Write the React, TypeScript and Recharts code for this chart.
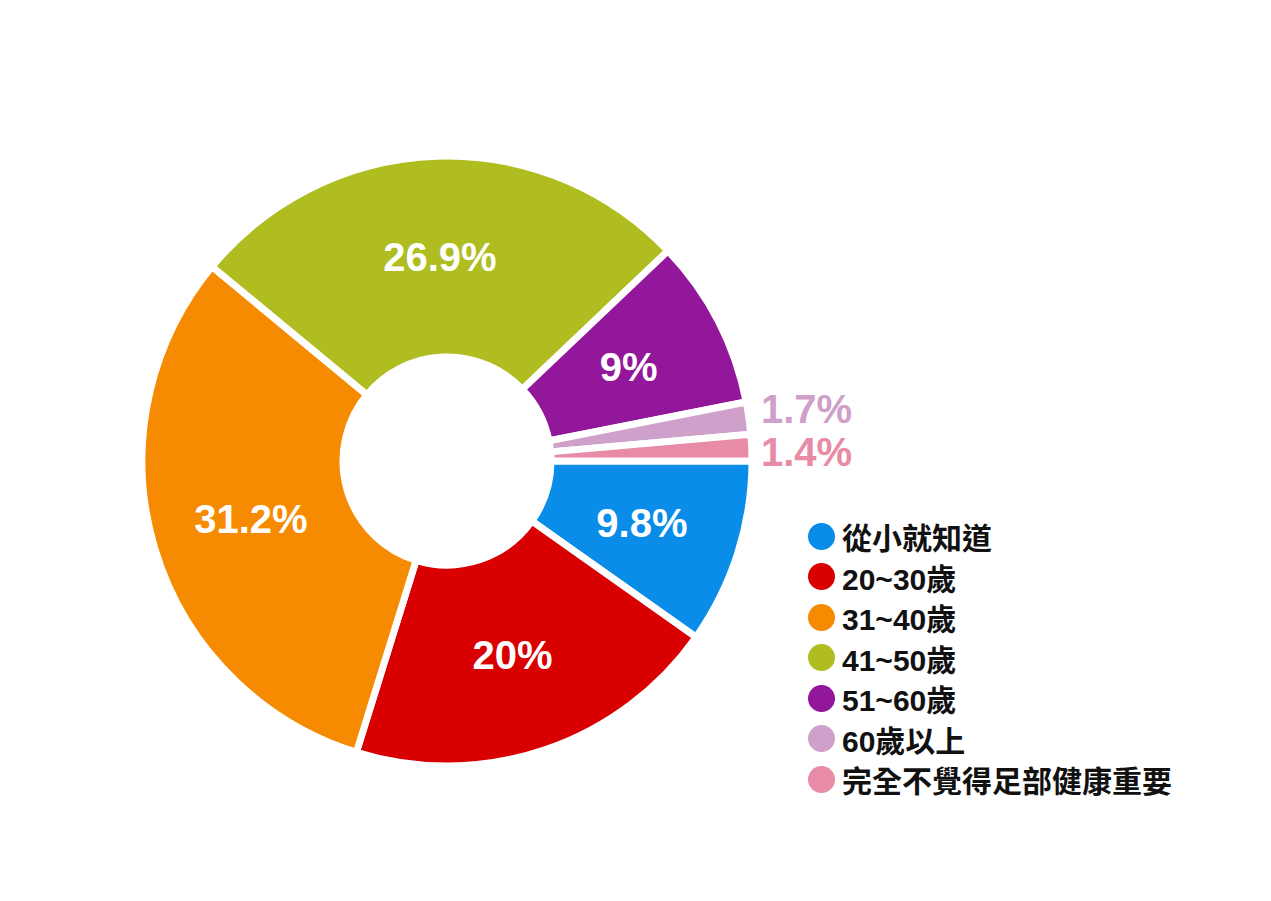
import { Cell, Legend, Pie, PieChart } from "recharts";

const categories = [
  "從小就知道",
  "20~30歲",
  "31~40歲",
  "41~50歲",
  "51~60歲",
  "60歲以上",
  "完全不覺得足部健康重要",
];
const shares = [9.8, 20, 31.2, 26.9, 9, 1.7, 1.4];
const colors = ["#0a8ce9", "#d80000", "#f68a00", "#afbd20", "#93179b", "#cfa0ca", "#e88ba6"];

const data = categories.map((name, i) => ({ name, value: shares[i] }));

const FONT = '"Liberation Sans", Arial, "Noto Sans CJK TC", sans-serif';
const RADIAN = Math.PI / 180;
const SMALL = 5;

function renderLabel(props: any) {
  const { cx, cy, midAngle, innerRadius, outerRadius, value, index } = props;
  if (value < SMALL) {
    // small slices get their labels stacked outside, to the right
    const fromEnd = data.length - 1 - index;
    return (
      <text
        x={cx + outerRadius + 9}
        y={cy - 9 - fromEnd * 43}
        fill={colors[index]}
        textAnchor="start"
        dominantBaseline="central"
        fontFamily={FONT}
        fontWeight="bold"
        fontSize={40}
      >
        {value}%
      </text>
    );
  }
  const r = (innerRadius + outerRadius) / 2;
  const x = cx + r * Math.cos(-midAngle * RADIAN);
  const y = cy + r * Math.sin(-midAngle * RADIAN);
  return (
    <text
      x={x}
      y={y}
      fill="#fff"
      textAnchor="middle"
      dominantBaseline="central"
      fontFamily={FONT}
      fontWeight="bold"
      fontSize={40}
    >
      {value}%
    </text>
  );
}

function LegendList() {
  return (
    <div style={{ fontFamily: FONT, fontWeight: "bold", fontSize: 30, color: "#111" }}>
      {data.map((d, i) => (
        <div key={d.name} style={{ display: "flex", alignItems: "center", height: 40.5 }}>
          <span
            style={{
              width: 27,
              height: 27,
              borderRadius: "50%",
              background: colors[i],
              marginRight: 7,
              flexShrink: 0,
            }}
          />
          <span style={{ whiteSpace: "nowrap" }}>{d.name}</span>
        </div>
      ))}
    </div>
  );
}

export default function App() {
  return (
    <div style={{ position: "absolute", left: 0, top: 0, background: "#fff" }}>
      <PieChart width={1271} height={901} margin={{ top: 0, right: 0, bottom: 0, left: 0 }}>
        <Pie
          data={data}
          dataKey="value"
          nameKey="name"
          cx={447}
          cy={461}
          innerRadius={104}
          outerRadius={305}
          startAngle={0}
          endAngle={-360}
          stroke="#fff"
          strokeWidth={7}
          label={renderLabel}
          labelLine={false}
          isAnimationActive={false}
        >
          {data.map((d, i) => (
            <Cell key={d.name} fill={colors[i]} />
          ))}
        </Pie>
        <Legend
          content={() => <LegendList />}
          wrapperStyle={{ position: "absolute", left: 808, top: 516, width: 420 }}
        />
      </PieChart>
    </div>
  );
}
